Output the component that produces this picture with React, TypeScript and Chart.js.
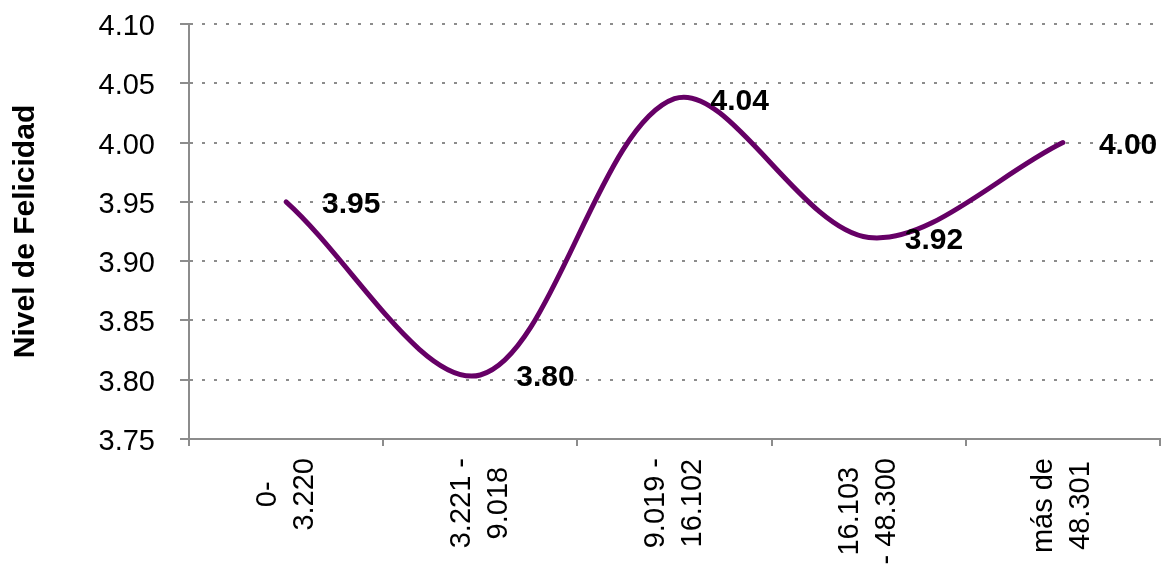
import { useEffect, useRef } from "react";
import { Chart, registerables } from "chart.js";

Chart.register(...registerables);

const categories: string[][] = [
  ["0-", "3.220"],
  ["3.221 -", "9.018"],
  ["9.019 -", "16.102"],
  ["16.103", "- 48.300"],
  ["más de", "48.301"],
];
const happiness: number[] = [3.95, 3.804, 4.037, 3.92, 4.0];
const yMin = 3.75;
const yMax = 4.1;
const yStep = 0.05;
const yTitle = "Nivel de Felicidad";

const FONT = '"Liberation Sans", Arial, Helvetica, sans-serif';
const GRAY = "#8c8c8c";
const LINE = "#660066";

const valueLabels = {
  id: "valueLabels",
  afterDatasetsDraw(chart: any) {
    const ctx = chart.ctx;
    const meta = chart.getDatasetMeta(0);
    ctx.save();
    ctx.font = `bold 30px ${FONT}`;
    ctx.fillStyle = "#000";
    ctx.textAlign = "left";
    ctx.textBaseline = "middle";
    meta.data.forEach((pt: any, i: number) => {
      ctx.fillText(happiness[i].toFixed(2), pt.x + 36, pt.y + 3);
    });
    ctx.restore();
  },
};

const xLabels = {
  id: "xLabels",
  afterDraw(chart: any) {
    const ctx = chart.ctx;
    const xs = chart.scales.x;
    ctx.save();
    ctx.font = `29px ${FONT}`;
    ctx.fillStyle = "#000";
    ctx.textAlign = "center";
    ctx.textBaseline = "middle";
    const top = xs.top + 19;
    const lh = 37;
    categories.forEach((lines, i) => {
      const x = xs.getPixelForValue(i);
      const w = Math.max(...lines.map((l) => ctx.measureText(l).width));
      ctx.save();
      ctx.translate(x, top + w / 2);
      ctx.rotate(-Math.PI / 2);
      lines.forEach((l, j) => {
        ctx.fillText(l, 0, (j - (lines.length - 1) / 2) * lh);
      });
      ctx.restore();
    });
    ctx.restore();
  },
};

export default function App() {
  const ref = useRef<HTMLCanvasElement>(null);
  useEffect(() => {
    const chart = new Chart(ref.current as HTMLCanvasElement, {
      type: "line",
      data: {
        labels: categories.map((c) => c.join(" ")),
        datasets: [
          {
            data: happiness,
            borderColor: LINE,
            borderWidth: 5,
            borderCapStyle: "round",
            tension: 0.33,
            pointRadius: 0,
            fill: false,
          },
        ],
      },
      options: {
        animation: false,
        responsive: false,
        maintainAspectRatio: false,
        layout: { padding: { left: 0, top: 24, right: 1, bottom: 0 } },
        plugins: { legend: { display: false }, tooltip: { enabled: false } },
        scales: {
          x: {
            offset: true,
            grid: {
              display: true,
              drawOnChartArea: false,
              drawTicks: true,
              tickLength: 7,
              offset: true,
              color: GRAY,
              tickColor: GRAY,
              lineWidth: 2,
              tickWidth: 2,
            },
            border: { display: true, color: GRAY, width: 2 },
            ticks: { display: false },
            afterFit: (s: any) => {
              s.height = 125;
              s.paddingLeft = 0;
              s.paddingRight = 0;
            },
          },
          y: {
            min: yMin,
            max: yMax,
            ticks: {
              stepSize: yStep,
              callback: (v: any) => Number(v).toFixed(2),
              font: { family: FONT, size: 29 },
              color: "#000",
              padding: 25,
              labelOffset: 3,
            },
            grid: {
              color: GRAY,
              lineWidth: 2,
              drawTicks: true,
              tickLength: 9,
              tickColor: GRAY,
              tickWidth: 2,
              tickBorderDash: [],
            },
            border: { display: true, color: GRAY, width: 2, dash: [3, 9] },
            title: {
              display: true,
              text: yTitle,
              font: { family: FONT, size: 30, weight: "bold" },
              color: "#000",
              padding: { top: 8, bottom: 0 },
            },
            afterFit: (s: any) => {
              s.width = 189;
              s.paddingTop = 0;
              s.paddingBottom = 0;
            },
          },
        },
      } as any,
      plugins: [valueLabels, xLabels],
    });
    return () => chart.destroy();
  }, []);
  return (
    <div style={{ position: "absolute", left: 0, top: 0, width: 1161, height: 564 }}>
      <canvas
        ref={ref}
        width={1161}
        height={564}
        style={{ display: "block", width: 1161, height: 564 }}
      />
    </div>
  );
}
